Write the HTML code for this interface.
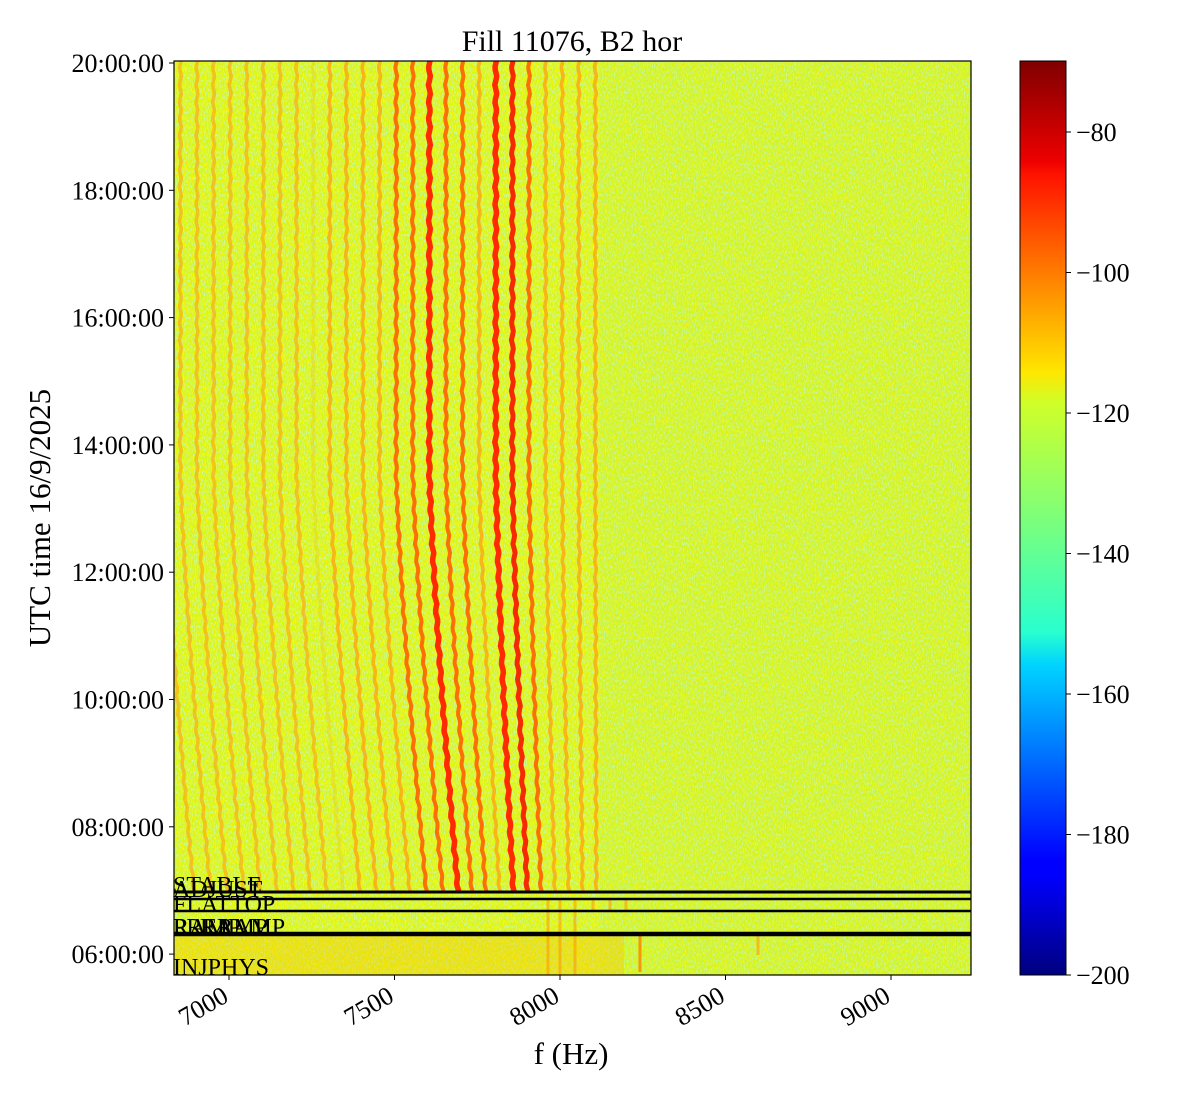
<!DOCTYPE html>
<html><head><meta charset="utf-8"><style>
html,body{margin:0;padding:0;background:#fff;}
svg{display:block;font-family:"Liberation Serif",serif;}
</style></head><body>
<svg id="s" width="1200" height="1100" xmlns="http://www.w3.org/2000/svg">
<defs>
<clipPath id="pc"><rect x="174" y="61" width="797" height="914"/></clipPath>
<filter id="nz" x="0" y="0" width="100%" height="100%">
<feTurbulence type="fractalNoise" baseFrequency="0.9 0.35" numOctaves="2" seed="4"/>
<feColorMatrix type="matrix" values="0 0 0 0 0.55  0 0 0 0 0.97  0 0 0 0 0.45  0 0 0 3.2 -1.45"/>
</filter>
<filter id="nz2" x="0" y="0" width="100%" height="100%">
<feTurbulence type="fractalNoise" baseFrequency="0.8 0.3" numOctaves="2" seed="9"/>
<feColorMatrix type="matrix" values="0 0 0 0 1  0 0 0 0 0.9  0 0 0 0 0  0 0 0 3 -1.3"/>
</filter>
<linearGradient id="jet" x1="0" y1="1" x2="0" y2="0">
<stop offset="0" stop-color="#00007f"/><stop offset="0.11" stop-color="#0000ff"/>
<stop offset="0.125" stop-color="#0000ff"/><stop offset="0.34" stop-color="#00d4ff"/>
<stop offset="0.375" stop-color="#29ffce"/><stop offset="0.5" stop-color="#7dff7a"/>
<stop offset="0.625" stop-color="#ceff29"/><stop offset="0.66" stop-color="#ffe600"/>
<stop offset="0.875" stop-color="#ff1300"/><stop offset="0.89" stop-color="#ee0000"/>
<stop offset="1" stop-color="#7f0000"/>
</linearGradient>
</defs>
<g clip-path="url(#pc)">
<rect x="174" y="61" width="797" height="914" fill="#d8f418"/>
<rect x="174" y="61" width="797" height="914" filter="url(#nz2)"/>
<rect x="174" y="61" width="797" height="914" filter="url(#nz)"/>
<rect x="600" y="61" width="371" height="914" fill="#a8f070" opacity="0.12"/>
<rect x="174" y="935" width="450" height="40" fill="#ffc000" opacity="0.35"/>
<g id="lines"></g>
</g>
<g stroke="#000">
<line x1="174" x2="971" y1="892" y2="892" stroke-width="3"/>
<line x1="174" x2="971" y1="899" y2="899" stroke-width="2.5"/>
<line x1="174" x2="971" y1="911" y2="911" stroke-width="2.5"/>
<line x1="174" x2="971" y1="934" y2="934" stroke-width="4.5"/>
</g>
<g font-size="24" fill="#000">
<text x="173" y="893">STABLE</text>
<text x="173" y="897">ADJUST</text>
<text x="173" y="912">FLATTOP</text>
<text x="173" y="935">PRERAMP</text>
<text x="173" y="935">RAMP</text>
<text x="200" y="935">RAMP</text>
<text x="173" y="975">INJPHYS</text>
</g>
<rect x="174" y="61" width="797" height="914" fill="none" stroke="#000" stroke-width="1.2"/>
<text x="572" y="51" font-size="30" text-anchor="middle">Fill 11076, B2 hor</text>
<text x="571" y="1064" font-size="31" text-anchor="middle">f (Hz)</text>
<text transform="translate(50,518) rotate(-90)" font-size="31" text-anchor="middle">UTC time 16/9/2025</text>
<g id="ax" font-size="26"></g>
<rect x="1020" y="61" width="46" height="914" fill="url(#jet)" stroke="#000" stroke-width="1"/>
</svg>
<script>
const NS="http://www.w3.org/2000/svg";
const ax=document.getElementById('ax');
function el(t,a,txt,p){const e=document.createElementNS(NS,t);for(const k in a)e.setAttribute(k,a[k]);if(txt!==undefined)e.textContent=txt;(p||ax).appendChild(e);return e;}
const yl=["20:00:00","18:00:00","16:00:00","14:00:00","12:00:00","10:00:00","08:00:00","06:00:00"];
yl.forEach((l,i)=>{const y=63+i*127.3;el('line',{x1:169,x2:174,y1:y,y2:y,stroke:'#000','stroke-width':1});el('text',{x:164,y:y+9,'text-anchor':'end'},l);});
[7000,7500,8000,8500,9000].forEach((v,i)=>{const x=229+(v-7000)*0.331;el('line',{x1:x,x2:x,y1:975,y2:980,stroke:'#000','stroke-width':1});el('text',{transform:`translate(${x-4},${992}) rotate(-30)`,'text-anchor':'end',y:10},String(v));});
[-80,-100,-120,-140,-160,-180,-200].forEach(v=>{const y=975-(v+200)*7.025;el('line',{x1:1066,x2:1071,y1:y,y2:y,stroke:'#000','stroke-width':1});el('text',{x:1076,y:y+9},'\u2212'+(-v));});
const g=document.getElementById('lines');
function shift(y,xt){if(y<470)return 0;const t=Math.min(1,(y-470)/420);const f=Math.max(0,Math.min(1,(600-xt)/180));return 30*f*Math.pow(t,1.3);}
for(let k=-2;k<25;k++){
  const xt=196+k*16.6;
  if(xt>596) continue;
  let d='';
  for(let y=61;y<=892;y+=3){
    const ph=(y%17)/17;const w=ph<0.5?ph*4:(1-ph)*4;
    const x=xt+shift(y,xt)+w*1.0;
    d+=(d?'L':'M')+x.toFixed(1)+' '+y;
  }
  let col='#ffa010',sw=3.6,op=0.75;
  if(Math.abs(xt-427)<4||Math.abs(xt-494)<4){col='#ff2a00';sw=5.5;op=1;}
  else if(Math.abs(xt-511)<4){col='#f52a00';sw=5;op=1;}
  else if(Math.abs(xt-394)<4||Math.abs(xt-411)<4||Math.abs(xt-444)<4||Math.abs(xt-461)<4||Math.abs(xt-527)<4){col='#ff6000';sw=4;op=0.9;}
  if(Math.abs(xt-311)<4) op=0.2;
  if(xt<300 && op<0.8) op=0.6;
  el('path',{d:d,stroke:col,'stroke-width':sw,fill:'none',opacity:op},undefined,g);
}
el('path',{d:'M640 935 L640 972',stroke:'#ff8000','stroke-width':3,opacity:0.8},undefined,g);
el('path',{d:'M548 899 L548 975 M560 899 L560 975 M575 899 L575 975',stroke:'#ff9000','stroke-width':3,opacity:0.5},undefined,g);
el('path',{d:'M593 899 L593 911 M610 899 L610 911 M626 899 L626 911 M758 935 L758 955',stroke:'#ff9a10','stroke-width':3,opacity:0.6},undefined,g);
</script>
</body></html>
